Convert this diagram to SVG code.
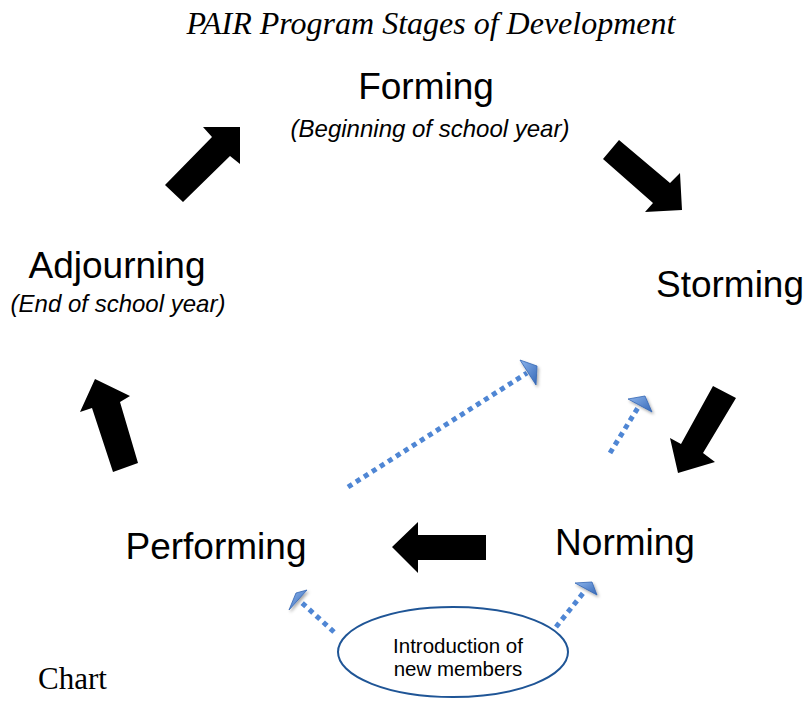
<svg xmlns="http://www.w3.org/2000/svg" width="806" height="702" viewBox="0 0 806 702">
<defs>
<style>
.lbl{font-family:"Liberation Sans",Arial,sans-serif;font-size:37px;fill:#000;text-anchor:middle}
.sub{font-family:"Liberation Sans",Arial,sans-serif;font-size:24px;font-style:italic;fill:#000;text-anchor:middle}
.ser{font-family:"Liberation Serif","Times New Roman",serif;fill:#000}
.big{fill:#000;stroke:none}
.dot{fill:none;stroke:#4f86d4;stroke-width:5;stroke-dasharray:5 4.5}
.head{fill:url(#hg);stroke:#3466b4;stroke-width:0.8;stroke-linejoin:round;filter:url(#sh)}
.ell{fill:#fff;stroke:#1f5596;stroke-width:2}
.small{font-family:"Liberation Sans",Arial,sans-serif;font-size:20.5px;fill:#000;text-anchor:middle}
</style>
<linearGradient id="hg" x1="0" y1="0" x2="1" y2="1">
<stop offset="0" stop-color="#8db5ec"/>
<stop offset="1" stop-color="#3568b8"/>
</linearGradient>
<filter id="sh" x="-50%" y="-50%" width="200%" height="200%">
<feDropShadow dx="1.5" dy="2" stdDeviation="1.5" flood-color="#000" flood-opacity="0.35"/>
</filter>
</defs>

<g id="title">
<text class="ser" x="431" y="34" font-size="32" font-style="italic" text-anchor="middle">PAIR Program Stages of Development</text>
</g>

<g id="connectors">
<polygon class="big" points="165,185 212,137 203,127 240,127 240,164 230,156 183,202"/>
<polygon class="big" points="603,159 619,140 670,183 680,173 682,210 645,212 653,203"/>
<polygon class="big" points="713,386 736,398 703,453 715,462 678,473 670,438 681,444"/>
<polygon class="big" points="486,535 418,535 418,522 392,547 418,573 418,560 486,560"/>
<polygon class="big" points="113,472 138,463 120,402 130,396 95,379 80,412 92,408"/>

<line class="dot" x1="348" y1="487" x2="527" y2="373"/>
<polygon class="head" points="520,360 537,366 536,385"/>

<line class="dot" x1="610" y1="453" x2="639" y2="406"/>
<polygon class="head" points="628,399 645,396 652,412"/>

<line class="dot" x1="334" y1="632" x2="301" y2="602"/>
<polygon class="head" points="289,610 296,593 307,590"/>

<line class="dot" x1="556" y1="627" x2="584" y2="592"/>
<polygon class="head" points="575,583 592,582 597,595"/>
</g>

<g id="forming">
<text class="lbl" x="426" y="99">Forming</text>
<text class="sub" x="430" y="137">(Beginning of school year)</text>
</g>

<g id="storming">
<text class="lbl" x="730" y="297">Storming</text>
</g>

<g id="norming">
<text class="lbl" x="625" y="555">Norming</text>
</g>

<g id="performing">
<text class="lbl" x="216" y="559">Performing</text>
</g>

<g id="adjourning">
<text class="lbl" x="117" y="278">Adjourning</text>
<text class="sub" x="118" y="312">(End of school year)</text>
</g>

<g id="introduction">
<ellipse class="ell" cx="453" cy="652" rx="115" ry="45"/>
<text class="small" x="458" y="653">Introduction of</text>
<text class="small" x="458" y="676">new members</text>
</g>

<g id="caption">
<text class="ser" x="38" y="689" font-size="31">Chart</text>
</g>
</svg>
